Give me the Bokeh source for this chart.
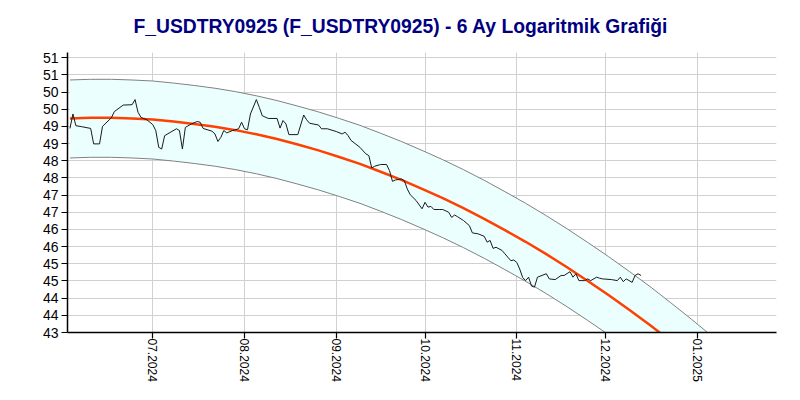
from datetime import datetime
import pandas as pd
from bokeh.plotting import figure
from bokeh.models import FixedTicker, Range1d, ColumnDataSource
from bokeh.embed import file_html
from bokeh.resources import INLINE

title_text = "F_USDTRY0925 (F_USDTRY0925) - 6 Ay Logaritmik Grafiği"

price_dates = [
    "2024-06-03", "2024-06-04", "2024-06-05", "2024-06-07", "2024-06-10", "2024-06-11",
    "2024-06-13", "2024-06-14", "2024-06-17", "2024-06-18", "2024-06-21", "2024-06-24",
    "2024-06-25", "2024-06-26", "2024-06-27", "2024-06-29", "2024-07-01", "2024-07-02",
    "2024-07-03", "2024-07-04", "2024-07-05", "2024-07-09", "2024-07-10", "2024-07-11",
    "2024-07-12", "2024-07-14", "2024-07-16", "2024-07-17", "2024-07-18", "2024-07-21",
    "2024-07-22", "2024-07-23", "2024-07-24", "2024-07-25", "2024-07-26", "2024-07-28",
    "2024-07-30", "2024-07-31", "2024-08-01", "2024-08-02", "2024-08-03", "2024-08-05",
    "2024-08-06", "2024-08-07", "2024-08-09", "2024-08-12", "2024-08-13", "2024-08-14",
    "2024-08-15", "2024-08-16", "2024-08-19", "2024-08-21", "2024-08-22", "2024-08-23",
    "2024-08-26", "2024-08-27", "2024-08-29", "2024-09-01", "2024-09-03", "2024-09-04",
    "2024-09-05", "2024-09-06", "2024-09-09", "2024-09-11", "2024-09-12", "2024-09-13",
    "2024-09-14", "2024-09-16", "2024-09-18", "2024-09-19", "2024-09-20", "2024-09-21",
    "2024-09-23", "2024-09-24", "2024-09-25", "2024-09-26", "2024-09-28", "2024-09-30",
    "2024-10-01", "2024-10-02", "2024-10-03", "2024-10-04", "2024-10-06", "2024-10-07",
    "2024-10-09", "2024-10-10", "2024-10-11", "2024-10-12", "2024-10-14", "2024-10-16",
    "2024-10-17", "2024-10-19", "2024-10-21", "2024-10-22", "2024-10-23", "2024-10-24",
    "2024-10-25", "2024-10-27", "2024-10-28", "2024-10-30", "2024-10-31", "2024-11-01",
    "2024-11-02", "2024-11-03", "2024-11-04", "2024-11-05", "2024-11-06", "2024-11-07",
    "2024-11-08", "2024-11-11", "2024-11-12", "2024-11-14", "2024-11-16", "2024-11-17",
    "2024-11-19", "2024-11-20", "2024-11-21", "2024-11-22", "2024-11-24", "2024-11-25",
    "2024-11-26", "2024-11-28", "2024-11-29", "2024-11-30", "2024-12-03", "2024-12-05",
    "2024-12-06", "2024-12-07", "2024-12-08", "2024-12-10", "2024-12-11", "2024-12-12",
    "2024-12-13",
]
price_values = [
    48.94, 49.36, 49.02, 48.99, 48.94, 48.49,
    48.49, 49.00, 49.25, 49.43, 49.62, 49.63,
    49.78, 49.41, 49.26, 49.19, 49.05, 48.88,
    48.39, 48.34, 48.73, 48.93, 48.88, 48.34,
    48.97, 49.07, 49.14, 49.12, 48.94, 48.86,
    48.78, 48.56, 48.68, 48.88, 48.81, 48.88,
    48.93, 49.12, 48.93, 48.90, 49.36, 49.78,
    49.55, 49.31, 49.23, 49.23, 48.95, 49.17,
    49.07, 48.76, 48.76, 49.33, 49.19, 49.09,
    49.04, 48.93, 48.93, 48.85, 48.78, 48.83,
    48.73, 48.59, 48.39, 48.20, 48.15, 47.79,
    47.84, 47.89, 47.89, 47.71, 47.40, 47.44,
    47.47, 47.42, 47.18, 47.01, 46.84, 46.60,
    46.79, 46.65, 46.67, 46.58, 46.58, 46.58,
    46.50, 46.35, 46.42, 46.37, 46.26, 46.11,
    45.90, 45.87, 45.80, 45.63, 45.68, 45.45,
    45.48, 45.39, 45.29, 45.09, 45.11, 45.04,
    44.85, 44.60, 44.51, 44.61, 44.35, 44.32,
    44.61, 44.71, 44.56, 44.54, 44.66, 44.66,
    44.77, 44.61, 44.71, 44.51, 44.51, 44.56,
    44.51, 44.61, 44.58, 44.56, 44.54, 44.51,
    44.61, 44.48, 44.56, 44.46, 44.66, 44.71,
    44.66,
]

trend_dates = [
    "2024-06-03", "2024-06-10", "2024-06-17", "2024-06-24", "2024-07-01", "2024-07-08",
    "2024-07-15", "2024-07-22", "2024-07-29", "2024-08-05", "2024-08-12", "2024-08-19",
    "2024-08-26", "2024-09-02", "2024-09-09", "2024-09-16", "2024-09-23", "2024-09-30",
    "2024-10-07", "2024-10-14", "2024-10-21", "2024-10-28", "2024-11-04", "2024-11-11",
    "2024-11-18", "2024-11-25", "2024-12-02", "2024-12-09", "2024-12-16", "2024-12-23",
    "2024-12-30", "2025-01-06",
]
trend_mid = [
    49.23, 49.25, 49.25, 49.23, 49.20, 49.14, 49.07, 48.99, 48.89, 48.77, 48.63, 48.47,
    48.30, 48.11, 47.91, 47.68, 47.44, 47.18, 46.91, 46.62, 46.31, 45.98, 45.64, 45.28,
    44.90, 44.50, 44.09, 43.66, 43.22, 42.75, 42.27, 41.77,
]
trend_upper = [
    50.35, 50.37, 50.37, 50.35, 50.32, 50.26, 50.19, 50.11, 50.01, 49.89, 49.75, 49.59,
    49.42, 49.23, 49.03, 48.80, 48.56, 48.30, 48.03, 47.74, 47.43, 47.10, 46.76, 46.40,
    46.02, 45.62, 45.21, 44.78, 44.34, 43.87, 43.39, 42.89,
]
trend_lower = [
    48.08, 48.10, 48.10, 48.08, 48.05, 47.99, 47.92, 47.84, 47.74, 47.62, 47.48, 47.32,
    47.15, 46.96, 46.76, 46.53, 46.29, 46.03, 45.76, 45.47, 45.16, 44.83, 44.49, 44.13,
    43.75, 43.35, 42.94, 42.51, 42.07, 41.60, 41.12, 40.62,
]

y_tick_values = [43.0, 43.5, 44.0, 44.5, 45.0, 45.5, 46.0, 46.5, 47.0,
                 47.5, 48.0, 48.5, 49.0, 49.5, 50.0, 50.5, 51.0]
y_tick_labels = ["43", "44", "44", "45", "45", "46", "46", "47", "47",
                 "48", "48", "49", "49", "50", "50", "51", "51"]
x_tick_dates = ["2024-07-01", "2024-08-01", "2024-09-01", "2024-10-01",
                "2024-11-01", "2024-12-01", "2025-01-01"]
x_tick_labels = ["07.2024", "08.2024", "09.2024", "10.2024", "11.2024", "12.2024", "01.2025"]

x_start = datetime(2024, 6, 2, 4)
x_end = datetime(2025, 1, 27, 19)
y_start = 43.0
y_end = 51.15

price_src = ColumnDataSource(dict(x=pd.to_datetime(price_dates), y=price_values))
trend_src = ColumnDataSource(dict(x=pd.to_datetime(trend_dates), mid=trend_mid,
                                  up=trend_upper, lo=trend_lower))

p = figure(width=800, height=400, x_axis_type="datetime",
           x_range=Range1d(x_start, x_end), y_range=Range1d(y_start, y_end),
           output_backend="svg", toolbar_location=None,
           min_border_left=67, min_border_right=24, min_border_top=52, min_border_bottom=68)
p.title.text = title_text
p.title.text_font = "Liberation Sans"
p.title.text_font_size = "19.3px"
p.title.text_font_style = "bold"
p.title.text_color = "#000080"
p.title.align = "left"
p.title.offset = 66
p.title.standoff = 28
p.title.vertical_align = "top"
p.outline_line_color = None
p.background_fill_color = "white"

p.varea(x="x", y1="lo", y2="up", source=trend_src, fill_color="#ebffff")
p.line(x="x", y="up", source=trend_src, line_color="#808080", line_width=1)
p.line(x="x", y="lo", source=trend_src, line_color="#808080", line_width=1)
p.line(x="x", y="mid", source=trend_src, line_color="#ff4000", line_width=2.5)
p.line(x="x", y="y", source=price_src, line_color="#1a1a1a", line_width=1)

x_ticks_ms = [pd.Timestamp(d).value / 1e6 for d in x_tick_dates]
p.xaxis.ticker = FixedTicker(ticks=x_ticks_ms)
p.xaxis.major_label_overrides = {t: l for t, l in zip(x_ticks_ms, x_tick_labels)}
p.xaxis.major_label_orientation = "vertical"
p.yaxis.ticker = FixedTicker(ticks=y_tick_values)
p.yaxis.major_label_overrides = {t: l for t, l in zip(y_tick_values, y_tick_labels)}

for ax in (p.xaxis, p.yaxis):
    ax.axis_line_color = "black"
    ax.axis_line_width = 1.5
    ax.major_tick_line_color = "black"
    ax.major_tick_line_width = 1.2
    ax.major_tick_in = 0
    ax.major_tick_out = 6
    ax.minor_tick_line_color = None
    ax.major_label_text_font = "Liberation Sans"
    ax.major_label_text_color = "black"
p.yaxis.major_label_text_font_size = "14px"
p.xaxis.major_label_text_font_size = "12px"
p.yaxis.major_label_standoff = 3
p.xaxis.major_label_standoff = 0

p.xgrid.ticker = FixedTicker(ticks=x_ticks_ms)
p.ygrid.ticker = FixedTicker(ticks=y_tick_values)
p.grid.grid_line_color = "#d0d0d0"
p.grid.grid_line_width = 1

open("out.html", "w").write(file_html(p, INLINE))
